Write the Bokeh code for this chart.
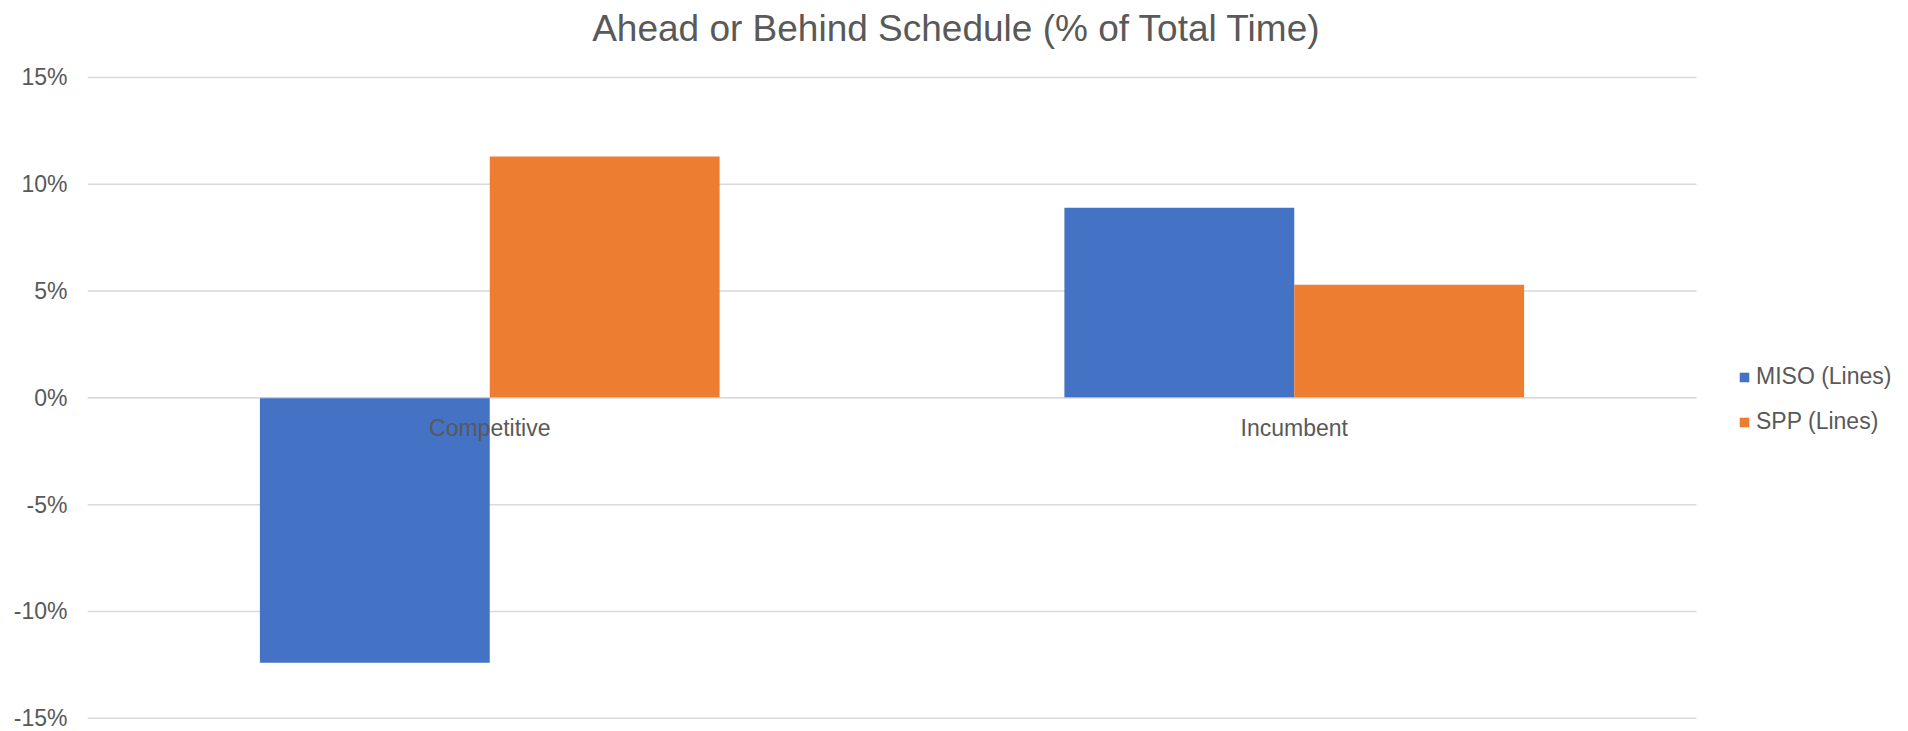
from bokeh.plotting import figure
from bokeh.models import ColumnDataSource, FixedTicker, Legend, LegendItem, Range1d, Label
from bokeh.core.properties import value
from bokeh.embed import file_html
from bokeh.resources import INLINE

# ---- data ----
categories = ["Competitive", "Incumbent"]
series_names = ["MISO (Lines)", "SPP (Lines)"]
miso = [-12.4, 8.9]
spp = [11.3, 5.3]
y_ticks = [-15, -10, -5, 0, 5, 10, 15]
y_tick_labels = ["-15%", "-10%", "-5%", "0%", "5%", "10%", "15%"]
title_text = "Ahead or Behind Schedule (% of Total Time)"

FONT = "Liberation Sans"
TXT = "#595959"
BLUE = "#4472C4"
ORANGE = "#ED7D31"
GRID = "#D9D9D9"

idx = list(range(len(categories)))
bw = 1 / 3.5                      # Excel gap width 150 %
X0, X1, XG = -0.5, 1.7635, 1.5    # view extents (plot area ends at XG)
Y0, Y1 = -15.623, 18.605

p = figure(width=1908, height=731, output_backend="svg", toolbar_location=None,
           x_range=Range1d(X0, X1), y_range=Range1d(Y0, Y1),
           min_border_left=87, min_border_right=0, min_border_top=0, min_border_bottom=0)
p.outline_line_color = None
p.grid.visible = False
p.xaxis.visible = False

yax = p.yaxis[0]
yax.ticker = FixedTicker(ticks=y_ticks)
yax.major_label_overrides = {t: l for t, l in zip(y_ticks, y_tick_labels)}
yax.axis_line_color = None
yax.major_tick_line_color = None
yax.minor_tick_line_color = None
yax.major_tick_out = 0
yax.major_tick_in = 0
yax.major_label_standoff = 20
yax.major_label_text_font = FONT
yax.major_label_text_font_size = "23px"
yax.major_label_text_color = TXT

# horizontal gridlines over the plot area only
grid_src = ColumnDataSource(dict(y=y_ticks, x0=[X0] * len(y_ticks), x1=[XG] * len(y_ticks)))
p.segment(x0="x0", x1="x1", y0="y", y1="y", source=grid_src, line_color=GRID, line_width=1.5)

src = ColumnDataSource(dict(
    x=idx,
    x_miso=[i - bw / 2 for i in idx],
    x_spp=[i + bw / 2 for i in idx],
    miso=miso, spp=spp, cat=categories, zero=[0] * len(idx)))

r1 = p.vbar(x="x_miso", top="miso", bottom=0, width=bw, source=src,
            fill_color=BLUE, line_color=None)
r2 = p.vbar(x="x_spp", top="spp", bottom=0, width=bw, source=src,
            fill_color=ORANGE, line_color=None)

# category axis line at zero (drawn over bars, faintly)
p.segment(x0=[X0], x1=[XG], y0=[0], y1=[0], line_color=GRID, line_width=1.5, line_alpha=0.55)

p.text(x="x", y="zero", text="cat", source=src, text_font=value(FONT),
       text_font_size="23px", text_color=TXT, text_align="center",
       text_baseline="alphabetic", y_offset=30)

legend = Legend(items=[LegendItem(label=series_names[0], renderers=[r1]),
                       LegendItem(label=series_names[1], renderers=[r2])],
                location=(1651, 296), orientation="vertical",
                glyph_width=12, glyph_height=12, label_standoff=6, spacing=18,
                padding=0, margin=0, border_line_color=None, background_fill_alpha=0,
                label_text_font=FONT, label_text_font_size="23px", label_text_color=TXT)
p.add_layout(legend)

title = Label(x=956 - 87, y=731 - 28, x_units="screen", y_units="screen", text=title_text,
              text_font=FONT, text_font_size="37px", text_color=TXT,
              text_align="center", text_baseline="alphabetic")
p.add_layout(title)

open("out.html", "w").write(file_html(p, INLINE))
